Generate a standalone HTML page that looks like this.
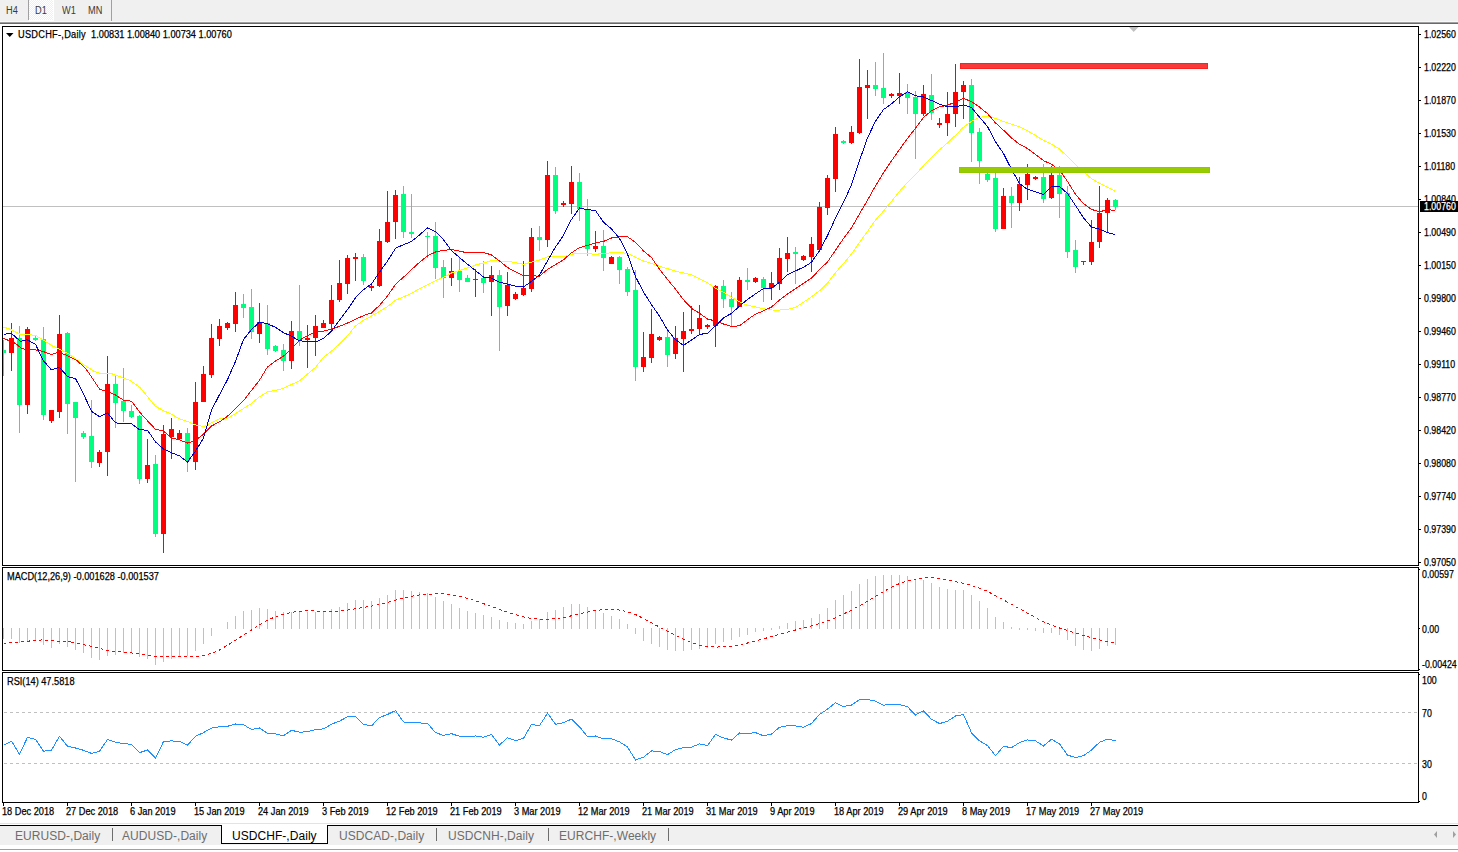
<!DOCTYPE html>
<html><head><meta charset="utf-8"><style>
*{margin:0;padding:0;box-sizing:border-box}
html,body{width:1458px;height:852px;overflow:hidden;background:#fff}
body{position:relative;font-family:"Liberation Sans",sans-serif;color:#000}
.tb{position:absolute;left:0;top:0;width:1458px;height:21px;background:#F0F0F0}
.tbb{position:absolute;top:7px;font-size:10px;line-height:8px;color:#3a3a3a;transform:scaleX(.92);transform-origin:0 0}
.al{position:absolute;left:1422px;font-size:10px;line-height:12px;white-space:nowrap;transform:scaleX(.88);transform-origin:0 0;-webkit-text-stroke:.25px currentColor}
.dl{position:absolute;top:806px;font-size:10px;line-height:12px;white-space:nowrap;transform:scaleX(.92);transform-origin:0 0;-webkit-text-stroke:.25px currentColor}
.ttl{position:absolute;font-size:10px;line-height:12px;white-space:nowrap;transform:scaleX(.92);transform-origin:0 0;-webkit-text-stroke:.25px currentColor}
.tab{position:absolute;top:828px;font-size:12px;line-height:16px;color:#6d6d6d;white-space:nowrap;letter-spacing:0.05px}
svg{position:absolute;left:0;top:0}
</style></head><body>
<div class="tb"></div>
<svg width="1458" height="852" viewBox="0 0 1458 852" shape-rendering="crispEdges">
<defs><clipPath id="mc"><rect x="3" y="27" width="1415" height="538"/></clipPath><clipPath id="mm"><rect x="3" y="568" width="1415" height="102"/></clipPath><clipPath id="mr"><rect x="3" y="673" width="1415" height="129"/></clipPath><pattern id="chk" width="2" height="2" patternUnits="userSpaceOnUse"><rect width="2" height="2" fill="#F0F0F0"/><rect width="1" height="1" fill="#fff"/><rect x="1" y="1" width="1" height="1" fill="#fff"/></pattern></defs>
<rect x="29" y="0" width="24" height="20" fill="url(#chk)"/>
<rect x="53" y="0" width="1" height="21" fill="#fff"/>
<rect x="29" y="20" width="25" height="1" fill="#fff"/>
<rect x="28" y="0" width="1" height="20" fill="#A0A0A0"/>
<rect x="111" y="0" width="1" height="22" fill="#A0A0A0"/>
<rect x="0" y="21" width="1458" height="1" fill="#F8F8F8"/>
<rect x="0" y="22" width="1458" height="1" fill="#A0A0A0"/>
<rect x="0" y="23" width="1458" height="1" fill="#696969"/>
<!-- price line -->
<rect x="3" y="206" width="1415" height="1" fill="#C0C0C0"/>
<g clip-path="url(#mc)"><g><rect x="3" y="340" width="1" height="10" fill="#00FF7F"/><rect x="3" y="353" width="1" height="23" fill="#00FF7F"/><rect x="1" y="350" width="5" height="3" fill="#00FF7F"/><rect x="11" y="323" width="1" height="15" fill="#FF0000"/><rect x="11" y="353" width="1" height="18" fill="#FF0000"/><rect x="9" y="338" width="5" height="15" fill="#FF0000"/><rect x="19" y="326" width="1" height="12" fill="#00FF7F"/><rect x="19" y="405" width="1" height="28" fill="#00FF7F"/><rect x="17" y="338" width="5" height="67" fill="#00FF7F"/><rect x="27" y="327" width="1" height="2" fill="#FF0000"/><rect x="27" y="405" width="1" height="9" fill="#FF0000"/><rect x="25" y="329" width="5" height="76" fill="#FF0000"/><rect x="35" y="336" width="1" height="2" fill="#00FF7F"/><rect x="35" y="340" width="1" height="1" fill="#00FF7F"/><rect x="33" y="338" width="5" height="2" fill="#00FF7F"/><rect x="43" y="327" width="1" height="12" fill="#00FF7F"/><rect x="43" y="415" width="1" height="5" fill="#00FF7F"/><rect x="41" y="339" width="5" height="76" fill="#00FF7F"/><rect x="51" y="421" width="1" height="2" fill="#FF0000"/><rect x="49" y="410" width="5" height="11" fill="#FF0000"/><rect x="59" y="315" width="1" height="19" fill="#FF0000"/><rect x="59" y="412" width="1" height="6" fill="#FF0000"/><rect x="57" y="334" width="5" height="78" fill="#FF0000"/><rect x="67" y="332" width="1" height="1" fill="#00FF7F"/><rect x="67" y="404" width="1" height="30" fill="#00FF7F"/><rect x="65" y="333" width="5" height="71" fill="#00FF7F"/><rect x="75" y="418" width="1" height="64" fill="#00FF7F"/><rect x="73" y="402" width="5" height="16" fill="#00FF7F"/><rect x="83" y="431" width="1" height="2" fill="#00FF7F"/><rect x="83" y="437" width="1" height="2" fill="#00FF7F"/><rect x="81" y="433" width="5" height="4" fill="#00FF7F"/><rect x="91" y="400" width="1" height="36" fill="#00FF7F"/><rect x="91" y="462" width="1" height="6" fill="#00FF7F"/><rect x="89" y="436" width="5" height="26" fill="#00FF7F"/><rect x="99" y="450" width="1" height="2" fill="#FF0000"/><rect x="99" y="463" width="1" height="4" fill="#FF0000"/><rect x="97" y="452" width="5" height="11" fill="#FF0000"/><rect x="107" y="356" width="1" height="28" fill="#FF0000"/><rect x="107" y="452" width="1" height="24" fill="#FF0000"/><rect x="105" y="384" width="5" height="68" fill="#FF0000"/><rect x="115" y="376" width="1" height="8" fill="#00FF7F"/><rect x="115" y="403" width="1" height="25" fill="#00FF7F"/><rect x="113" y="384" width="5" height="19" fill="#00FF7F"/><rect x="123" y="368" width="1" height="33" fill="#00FF7F"/><rect x="123" y="411" width="1" height="11" fill="#00FF7F"/><rect x="121" y="401" width="5" height="10" fill="#00FF7F"/><rect x="131" y="405" width="1" height="6" fill="#00FF7F"/><rect x="131" y="417" width="1" height="1" fill="#00FF7F"/><rect x="129" y="411" width="5" height="6" fill="#00FF7F"/><rect x="139" y="415" width="1" height="1" fill="#00FF7F"/><rect x="139" y="479" width="1" height="5" fill="#00FF7F"/><rect x="137" y="416" width="5" height="63" fill="#00FF7F"/><rect x="147" y="439" width="1" height="26" fill="#FF0000"/><rect x="147" y="479" width="1" height="4" fill="#FF0000"/><rect x="145" y="465" width="5" height="14" fill="#FF0000"/><rect x="155" y="455" width="1" height="9" fill="#00FF7F"/><rect x="155" y="534" width="1" height="3" fill="#00FF7F"/><rect x="153" y="464" width="5" height="70" fill="#00FF7F"/><rect x="163" y="425" width="1" height="9" fill="#FF0000"/><rect x="163" y="534" width="1" height="19" fill="#FF0000"/><rect x="161" y="434" width="5" height="100" fill="#FF0000"/><rect x="171" y="418" width="1" height="11" fill="#FF0000"/><rect x="171" y="437" width="1" height="22" fill="#FF0000"/><rect x="169" y="429" width="5" height="8" fill="#FF0000"/><rect x="179" y="430" width="1" height="3" fill="#FF0000"/><rect x="179" y="439" width="1" height="1" fill="#FF0000"/><rect x="177" y="433" width="5" height="6" fill="#FF0000"/><rect x="187" y="428" width="1" height="5" fill="#00FF7F"/><rect x="187" y="461" width="1" height="11" fill="#00FF7F"/><rect x="185" y="433" width="5" height="28" fill="#00FF7F"/><rect x="195" y="382" width="1" height="20" fill="#FF0000"/><rect x="195" y="462" width="1" height="8" fill="#FF0000"/><rect x="193" y="402" width="5" height="60" fill="#FF0000"/><rect x="203" y="366" width="1" height="8" fill="#FF0000"/><rect x="201" y="374" width="5" height="28" fill="#FF0000"/><rect x="211" y="324" width="1" height="14" fill="#FF0000"/><rect x="211" y="375" width="1" height="3" fill="#FF0000"/><rect x="209" y="338" width="5" height="37" fill="#FF0000"/><rect x="219" y="319" width="1" height="7" fill="#FF0000"/><rect x="219" y="339" width="1" height="7" fill="#FF0000"/><rect x="217" y="326" width="5" height="13" fill="#FF0000"/><rect x="227" y="322" width="1" height="1" fill="#FF0000"/><rect x="227" y="328" width="1" height="2" fill="#FF0000"/><rect x="225" y="323" width="5" height="5" fill="#FF0000"/><rect x="235" y="292" width="1" height="13" fill="#FF0000"/><rect x="235" y="324" width="1" height="8" fill="#FF0000"/><rect x="233" y="305" width="5" height="19" fill="#FF0000"/><rect x="243" y="294" width="1" height="10" fill="#00FF7F"/><rect x="243" y="308" width="1" height="10" fill="#00FF7F"/><rect x="241" y="304" width="5" height="4" fill="#00FF7F"/><rect x="251" y="289" width="1" height="18" fill="#00FF7F"/><rect x="251" y="332" width="1" height="7" fill="#00FF7F"/><rect x="249" y="307" width="5" height="25" fill="#00FF7F"/><rect x="259" y="303" width="1" height="19" fill="#FF0000"/><rect x="259" y="334" width="1" height="9" fill="#FF0000"/><rect x="257" y="322" width="5" height="12" fill="#FF0000"/><rect x="267" y="305" width="1" height="18" fill="#00FF7F"/><rect x="267" y="349" width="1" height="6" fill="#00FF7F"/><rect x="265" y="323" width="5" height="26" fill="#00FF7F"/><rect x="275" y="345" width="1" height="1" fill="#00FF7F"/><rect x="275" y="351" width="1" height="1" fill="#00FF7F"/><rect x="273" y="346" width="5" height="5" fill="#00FF7F"/><rect x="283" y="344" width="1" height="6" fill="#00FF7F"/><rect x="283" y="361" width="1" height="10" fill="#00FF7F"/><rect x="281" y="350" width="5" height="11" fill="#00FF7F"/><rect x="291" y="321" width="1" height="10" fill="#FF0000"/><rect x="291" y="361" width="1" height="8" fill="#FF0000"/><rect x="289" y="331" width="5" height="30" fill="#FF0000"/><rect x="299" y="285" width="1" height="46" fill="#00FF7F"/><rect x="299" y="340" width="1" height="6" fill="#00FF7F"/><rect x="297" y="331" width="5" height="9" fill="#00FF7F"/><rect x="307" y="325" width="1" height="13" fill="#FF0000"/><rect x="307" y="340" width="1" height="28" fill="#FF0000"/><rect x="305" y="338" width="5" height="2" fill="#FF0000"/><rect x="315" y="315" width="1" height="11" fill="#FF0000"/><rect x="315" y="338" width="1" height="18" fill="#FF0000"/><rect x="313" y="326" width="5" height="12" fill="#FF0000"/><rect x="323" y="320" width="1" height="3" fill="#FF0000"/><rect x="321" y="323" width="5" height="5" fill="#FF0000"/><rect x="331" y="285" width="1" height="15" fill="#FF0000"/><rect x="331" y="324" width="1" height="5" fill="#FF0000"/><rect x="329" y="300" width="5" height="24" fill="#FF0000"/><rect x="339" y="260" width="1" height="23" fill="#FF0000"/><rect x="339" y="300" width="1" height="2" fill="#FF0000"/><rect x="337" y="283" width="5" height="17" fill="#FF0000"/><rect x="347" y="255" width="1" height="3" fill="#FF0000"/><rect x="347" y="284" width="1" height="10" fill="#FF0000"/><rect x="345" y="258" width="5" height="26" fill="#FF0000"/><rect x="355" y="253" width="1" height="4" fill="#FF0000"/><rect x="355" y="259" width="1" height="22" fill="#FF0000"/><rect x="353" y="257" width="5" height="2" fill="#FF0000"/><rect x="363" y="254" width="1" height="3" fill="#00FF7F"/><rect x="363" y="281" width="1" height="4" fill="#00FF7F"/><rect x="361" y="257" width="5" height="24" fill="#00FF7F"/><rect x="371" y="284" width="1" height="2" fill="#FF0000"/><rect x="371" y="288" width="1" height="3" fill="#FF0000"/><rect x="369" y="286" width="5" height="2" fill="#FF0000"/><rect x="379" y="229" width="1" height="12" fill="#FF0000"/><rect x="379" y="286" width="1" height="1" fill="#FF0000"/><rect x="377" y="241" width="5" height="45" fill="#FF0000"/><rect x="387" y="191" width="1" height="31" fill="#FF0000"/><rect x="387" y="242" width="1" height="1" fill="#FF0000"/><rect x="385" y="222" width="5" height="20" fill="#FF0000"/><rect x="395" y="190" width="1" height="5" fill="#FF0000"/><rect x="395" y="222" width="1" height="17" fill="#FF0000"/><rect x="393" y="195" width="5" height="27" fill="#FF0000"/><rect x="403" y="186" width="1" height="8" fill="#00FF7F"/><rect x="403" y="232" width="1" height="6" fill="#00FF7F"/><rect x="401" y="194" width="5" height="38" fill="#00FF7F"/><rect x="411" y="194" width="1" height="38" fill="#00FF7F"/><rect x="411" y="234" width="1" height="4" fill="#00FF7F"/><rect x="409" y="232" width="5" height="2" fill="#00FF7F"/><rect x="427" y="232" width="1" height="4" fill="#00FF7F"/><rect x="427" y="237" width="1" height="21" fill="#00FF7F"/><rect x="425" y="236" width="5" height="1" fill="#00FF7F"/><rect x="435" y="222" width="1" height="14" fill="#00FF7F"/><rect x="435" y="268" width="1" height="11" fill="#00FF7F"/><rect x="433" y="236" width="5" height="32" fill="#00FF7F"/><rect x="443" y="260" width="1" height="7" fill="#00FF7F"/><rect x="443" y="278" width="1" height="20" fill="#00FF7F"/><rect x="441" y="267" width="5" height="11" fill="#00FF7F"/><rect x="451" y="258" width="1" height="13" fill="#FF0000"/><rect x="451" y="278" width="1" height="8" fill="#FF0000"/><rect x="449" y="271" width="5" height="7" fill="#FF0000"/><rect x="459" y="258" width="1" height="13" fill="#00FF7F"/><rect x="459" y="280" width="1" height="12" fill="#00FF7F"/><rect x="457" y="271" width="5" height="9" fill="#00FF7F"/><rect x="467" y="275" width="1" height="3" fill="#00FF7F"/><rect x="465" y="278" width="5" height="4" fill="#00FF7F"/><rect x="475" y="269" width="1" height="10" fill="#FF0000"/><rect x="475" y="280" width="1" height="17" fill="#FF0000"/><rect x="473" y="279" width="5" height="1" fill="#FF0000"/><rect x="483" y="261" width="1" height="17" fill="#00FF7F"/><rect x="483" y="283" width="1" height="10" fill="#00FF7F"/><rect x="481" y="278" width="5" height="5" fill="#00FF7F"/><rect x="491" y="266" width="1" height="9" fill="#FF0000"/><rect x="491" y="282" width="1" height="34" fill="#FF0000"/><rect x="489" y="275" width="5" height="7" fill="#FF0000"/><rect x="499" y="270" width="1" height="5" fill="#00FF7F"/><rect x="499" y="307" width="1" height="44" fill="#00FF7F"/><rect x="497" y="275" width="5" height="32" fill="#00FF7F"/><rect x="507" y="272" width="1" height="13" fill="#FF0000"/><rect x="507" y="306" width="1" height="10" fill="#FF0000"/><rect x="505" y="285" width="5" height="21" fill="#FF0000"/><rect x="515" y="292" width="1" height="2" fill="#FF0000"/><rect x="515" y="299" width="1" height="1" fill="#FF0000"/><rect x="513" y="294" width="5" height="5" fill="#FF0000"/><rect x="523" y="261" width="1" height="27" fill="#FF0000"/><rect x="523" y="295" width="1" height="1" fill="#FF0000"/><rect x="521" y="288" width="5" height="7" fill="#FF0000"/><rect x="531" y="228" width="1" height="9" fill="#FF0000"/><rect x="531" y="289" width="1" height="3" fill="#FF0000"/><rect x="529" y="237" width="5" height="52" fill="#FF0000"/><rect x="539" y="226" width="1" height="11" fill="#00FF7F"/><rect x="539" y="240" width="1" height="11" fill="#00FF7F"/><rect x="537" y="237" width="5" height="3" fill="#00FF7F"/><rect x="547" y="161" width="1" height="14" fill="#FF0000"/><rect x="547" y="240" width="1" height="7" fill="#FF0000"/><rect x="545" y="175" width="5" height="65" fill="#FF0000"/><rect x="555" y="167" width="1" height="8" fill="#00FF7F"/><rect x="555" y="211" width="1" height="3" fill="#00FF7F"/><rect x="553" y="175" width="5" height="36" fill="#00FF7F"/><rect x="563" y="201" width="1" height="2" fill="#FF0000"/><rect x="563" y="205" width="1" height="2" fill="#FF0000"/><rect x="561" y="203" width="5" height="2" fill="#FF0000"/><rect x="571" y="166" width="1" height="16" fill="#FF0000"/><rect x="571" y="204" width="1" height="10" fill="#FF0000"/><rect x="569" y="182" width="5" height="22" fill="#FF0000"/><rect x="579" y="173" width="1" height="9" fill="#00FF7F"/><rect x="579" y="209" width="1" height="12" fill="#00FF7F"/><rect x="577" y="182" width="5" height="27" fill="#00FF7F"/><rect x="587" y="199" width="1" height="10" fill="#00FF7F"/><rect x="587" y="249" width="1" height="7" fill="#00FF7F"/><rect x="585" y="209" width="5" height="40" fill="#00FF7F"/><rect x="595" y="231" width="1" height="15" fill="#FF0000"/><rect x="595" y="249" width="1" height="3" fill="#FF0000"/><rect x="593" y="246" width="5" height="3" fill="#FF0000"/><rect x="603" y="230" width="1" height="16" fill="#00FF7F"/><rect x="603" y="258" width="1" height="13" fill="#00FF7F"/><rect x="601" y="246" width="5" height="12" fill="#00FF7F"/><rect x="611" y="256" width="1" height="1" fill="#FF0000"/><rect x="609" y="257" width="5" height="7" fill="#FF0000"/><rect x="619" y="256" width="1" height="1" fill="#00FF7F"/><rect x="619" y="270" width="1" height="14" fill="#00FF7F"/><rect x="617" y="257" width="5" height="13" fill="#00FF7F"/><rect x="627" y="267" width="1" height="2" fill="#00FF7F"/><rect x="627" y="292" width="1" height="4" fill="#00FF7F"/><rect x="625" y="269" width="5" height="23" fill="#00FF7F"/><rect x="635" y="270" width="1" height="20" fill="#00FF7F"/><rect x="635" y="367" width="1" height="14" fill="#00FF7F"/><rect x="633" y="290" width="5" height="77" fill="#00FF7F"/><rect x="643" y="332" width="1" height="25" fill="#FF0000"/><rect x="643" y="367" width="1" height="5" fill="#FF0000"/><rect x="641" y="357" width="5" height="10" fill="#FF0000"/><rect x="651" y="309" width="1" height="25" fill="#FF0000"/><rect x="651" y="358" width="1" height="5" fill="#FF0000"/><rect x="649" y="334" width="5" height="24" fill="#FF0000"/><rect x="659" y="336" width="1" height="1" fill="#FF0000"/><rect x="659" y="340" width="1" height="1" fill="#FF0000"/><rect x="657" y="337" width="5" height="3" fill="#FF0000"/><rect x="667" y="331" width="1" height="6" fill="#00FF7F"/><rect x="667" y="355" width="1" height="12" fill="#00FF7F"/><rect x="665" y="337" width="5" height="18" fill="#00FF7F"/><rect x="675" y="326" width="1" height="12" fill="#FF0000"/><rect x="675" y="354" width="1" height="5" fill="#FF0000"/><rect x="673" y="338" width="5" height="16" fill="#FF0000"/><rect x="683" y="312" width="1" height="19" fill="#FF0000"/><rect x="683" y="339" width="1" height="33" fill="#FF0000"/><rect x="681" y="331" width="5" height="8" fill="#FF0000"/><rect x="691" y="306" width="1" height="23" fill="#FF0000"/><rect x="691" y="331" width="1" height="3" fill="#FF0000"/><rect x="689" y="329" width="5" height="2" fill="#FF0000"/><rect x="699" y="305" width="1" height="13" fill="#FF0000"/><rect x="699" y="329" width="1" height="5" fill="#FF0000"/><rect x="697" y="318" width="5" height="11" fill="#FF0000"/><rect x="707" y="324" width="1" height="1" fill="#FF0000"/><rect x="707" y="327" width="1" height="2" fill="#FF0000"/><rect x="705" y="325" width="5" height="2" fill="#FF0000"/><rect x="715" y="285" width="1" height="1" fill="#FF0000"/><rect x="715" y="326" width="1" height="21" fill="#FF0000"/><rect x="713" y="286" width="5" height="40" fill="#FF0000"/><rect x="723" y="280" width="1" height="6" fill="#00FF7F"/><rect x="723" y="299" width="1" height="9" fill="#00FF7F"/><rect x="721" y="286" width="5" height="13" fill="#00FF7F"/><rect x="731" y="292" width="1" height="7" fill="#00FF7F"/><rect x="731" y="307" width="1" height="19" fill="#00FF7F"/><rect x="729" y="299" width="5" height="8" fill="#00FF7F"/><rect x="739" y="277" width="1" height="3" fill="#FF0000"/><rect x="737" y="280" width="5" height="27" fill="#FF0000"/><rect x="747" y="268" width="1" height="12" fill="#00FF7F"/><rect x="747" y="282" width="1" height="8" fill="#00FF7F"/><rect x="745" y="280" width="5" height="2" fill="#00FF7F"/><rect x="755" y="277" width="1" height="1" fill="#FF0000"/><rect x="755" y="282" width="1" height="1" fill="#FF0000"/><rect x="753" y="278" width="5" height="4" fill="#FF0000"/><rect x="763" y="277" width="1" height="2" fill="#00FF7F"/><rect x="763" y="288" width="1" height="14" fill="#00FF7F"/><rect x="761" y="279" width="5" height="9" fill="#00FF7F"/><rect x="771" y="272" width="1" height="11" fill="#FF0000"/><rect x="771" y="288" width="1" height="12" fill="#FF0000"/><rect x="769" y="283" width="5" height="5" fill="#FF0000"/><rect x="779" y="248" width="1" height="10" fill="#FF0000"/><rect x="779" y="284" width="1" height="6" fill="#FF0000"/><rect x="777" y="258" width="5" height="26" fill="#FF0000"/><rect x="787" y="237" width="1" height="16" fill="#FF0000"/><rect x="787" y="259" width="1" height="13" fill="#FF0000"/><rect x="785" y="253" width="5" height="6" fill="#FF0000"/><rect x="795" y="247" width="1" height="5" fill="#00FF7F"/><rect x="795" y="254" width="1" height="30" fill="#00FF7F"/><rect x="793" y="252" width="5" height="2" fill="#00FF7F"/><rect x="803" y="255" width="1" height="1" fill="#FF0000"/><rect x="803" y="260" width="1" height="1" fill="#FF0000"/><rect x="801" y="256" width="5" height="4" fill="#FF0000"/><rect x="811" y="237" width="1" height="7" fill="#FF0000"/><rect x="811" y="257" width="1" height="15" fill="#FF0000"/><rect x="809" y="244" width="5" height="13" fill="#FF0000"/><rect x="819" y="202" width="1" height="5" fill="#FF0000"/><rect x="817" y="207" width="5" height="43" fill="#FF0000"/><rect x="827" y="175" width="1" height="3" fill="#FF0000"/><rect x="827" y="208" width="1" height="7" fill="#FF0000"/><rect x="825" y="178" width="5" height="30" fill="#FF0000"/><rect x="835" y="127" width="1" height="7" fill="#FF0000"/><rect x="835" y="179" width="1" height="13" fill="#FF0000"/><rect x="833" y="134" width="5" height="45" fill="#FF0000"/><rect x="843" y="140" width="1" height="1" fill="#00FF7F"/><rect x="843" y="143" width="1" height="1" fill="#00FF7F"/><rect x="841" y="141" width="5" height="2" fill="#00FF7F"/><rect x="851" y="126" width="1" height="6" fill="#FF0000"/><rect x="851" y="143" width="1" height="1" fill="#FF0000"/><rect x="849" y="132" width="5" height="11" fill="#FF0000"/><rect x="859" y="59" width="1" height="28" fill="#FF0000"/><rect x="859" y="133" width="1" height="1" fill="#FF0000"/><rect x="857" y="87" width="5" height="46" fill="#FF0000"/><rect x="867" y="70" width="1" height="15" fill="#FF0000"/><rect x="867" y="88" width="1" height="31" fill="#FF0000"/><rect x="865" y="85" width="5" height="3" fill="#FF0000"/><rect x="875" y="62" width="1" height="23" fill="#00FF7F"/><rect x="875" y="89" width="1" height="7" fill="#00FF7F"/><rect x="873" y="85" width="5" height="4" fill="#00FF7F"/><rect x="883" y="53" width="1" height="35" fill="#00FF7F"/><rect x="883" y="98" width="1" height="6" fill="#00FF7F"/><rect x="881" y="88" width="5" height="10" fill="#00FF7F"/><rect x="891" y="93" width="1" height="1" fill="#FF0000"/><rect x="891" y="96" width="1" height="2" fill="#FF0000"/><rect x="889" y="94" width="5" height="2" fill="#FF0000"/><rect x="899" y="73" width="1" height="20" fill="#FF0000"/><rect x="899" y="96" width="1" height="8" fill="#FF0000"/><rect x="897" y="93" width="5" height="3" fill="#FF0000"/><rect x="907" y="84" width="1" height="8" fill="#00FF7F"/><rect x="907" y="98" width="1" height="16" fill="#00FF7F"/><rect x="905" y="92" width="5" height="6" fill="#00FF7F"/><rect x="915" y="91" width="1" height="6" fill="#00FF7F"/><rect x="915" y="114" width="1" height="45" fill="#00FF7F"/><rect x="913" y="97" width="5" height="17" fill="#00FF7F"/><rect x="923" y="85" width="1" height="9" fill="#FF0000"/><rect x="923" y="114" width="1" height="2" fill="#FF0000"/><rect x="921" y="94" width="5" height="20" fill="#FF0000"/><rect x="931" y="74" width="1" height="21" fill="#00FF7F"/><rect x="931" y="113" width="1" height="7" fill="#00FF7F"/><rect x="929" y="95" width="5" height="18" fill="#00FF7F"/><rect x="939" y="118" width="1" height="5" fill="#FF0000"/><rect x="939" y="125" width="1" height="3" fill="#FF0000"/><rect x="937" y="123" width="5" height="2" fill="#FF0000"/><rect x="947" y="92" width="1" height="22" fill="#FF0000"/><rect x="947" y="123" width="1" height="13" fill="#FF0000"/><rect x="945" y="114" width="5" height="9" fill="#FF0000"/><rect x="955" y="64" width="1" height="28" fill="#FF0000"/><rect x="955" y="114" width="1" height="13" fill="#FF0000"/><rect x="953" y="92" width="5" height="22" fill="#FF0000"/><rect x="963" y="81" width="1" height="4" fill="#FF0000"/><rect x="963" y="92" width="1" height="27" fill="#FF0000"/><rect x="961" y="85" width="5" height="7" fill="#FF0000"/><rect x="971" y="79" width="1" height="6" fill="#00FF7F"/><rect x="971" y="133" width="1" height="29" fill="#00FF7F"/><rect x="969" y="85" width="5" height="48" fill="#00FF7F"/><rect x="979" y="128" width="1" height="4" fill="#00FF7F"/><rect x="979" y="161" width="1" height="23" fill="#00FF7F"/><rect x="977" y="132" width="5" height="29" fill="#00FF7F"/><rect x="987" y="172" width="1" height="2" fill="#00FF7F"/><rect x="987" y="180" width="1" height="2" fill="#00FF7F"/><rect x="985" y="174" width="5" height="6" fill="#00FF7F"/><rect x="995" y="173" width="1" height="5" fill="#00FF7F"/><rect x="995" y="229" width="1" height="3" fill="#00FF7F"/><rect x="993" y="178" width="5" height="51" fill="#00FF7F"/><rect x="1003" y="188" width="1" height="8" fill="#FF0000"/><rect x="1001" y="196" width="5" height="33" fill="#FF0000"/><rect x="1011" y="187" width="1" height="9" fill="#00FF7F"/><rect x="1011" y="203" width="1" height="25" fill="#00FF7F"/><rect x="1009" y="196" width="5" height="7" fill="#00FF7F"/><rect x="1019" y="177" width="1" height="7" fill="#FF0000"/><rect x="1019" y="203" width="1" height="8" fill="#FF0000"/><rect x="1017" y="184" width="5" height="19" fill="#FF0000"/><rect x="1027" y="164" width="1" height="10" fill="#FF0000"/><rect x="1027" y="185" width="1" height="15" fill="#FF0000"/><rect x="1025" y="174" width="5" height="11" fill="#FF0000"/><rect x="1035" y="176" width="1" height="1" fill="#FF0000"/><rect x="1035" y="179" width="1" height="1" fill="#FF0000"/><rect x="1033" y="177" width="5" height="2" fill="#FF0000"/><rect x="1043" y="164" width="1" height="13" fill="#00FF7F"/><rect x="1043" y="199" width="1" height="4" fill="#00FF7F"/><rect x="1041" y="177" width="5" height="22" fill="#00FF7F"/><rect x="1051" y="166" width="1" height="9" fill="#FF0000"/><rect x="1051" y="198" width="1" height="1" fill="#FF0000"/><rect x="1049" y="175" width="5" height="23" fill="#FF0000"/><rect x="1059" y="166" width="1" height="9" fill="#00FF7F"/><rect x="1059" y="194" width="1" height="24" fill="#00FF7F"/><rect x="1057" y="175" width="5" height="19" fill="#00FF7F"/><rect x="1067" y="186" width="1" height="7" fill="#00FF7F"/><rect x="1067" y="252" width="1" height="6" fill="#00FF7F"/><rect x="1065" y="193" width="5" height="59" fill="#00FF7F"/><rect x="1075" y="240" width="1" height="10" fill="#00FF7F"/><rect x="1075" y="267" width="1" height="6" fill="#00FF7F"/><rect x="1073" y="250" width="5" height="17" fill="#00FF7F"/><rect x="1083" y="262" width="1" height="3" fill="#FF0000"/><rect x="1081" y="261" width="5" height="1" fill="#FF0000"/><rect x="1091" y="220" width="1" height="22" fill="#FF0000"/><rect x="1091" y="262" width="1" height="3" fill="#FF0000"/><rect x="1089" y="242" width="5" height="20" fill="#FF0000"/><rect x="1099" y="186" width="1" height="27" fill="#FF0000"/><rect x="1099" y="242" width="1" height="6" fill="#FF0000"/><rect x="1097" y="213" width="5" height="29" fill="#FF0000"/><rect x="1107" y="198" width="1" height="2" fill="#FF0000"/><rect x="1107" y="213" width="1" height="19" fill="#FF0000"/><rect x="1105" y="200" width="5" height="13" fill="#FF0000"/><rect x="1115" y="199" width="1" height="1" fill="#00FF7F"/><rect x="1115" y="207" width="1" height="3" fill="#00FF7F"/><rect x="1113" y="200" width="5" height="7" fill="#00FF7F"/></g>
<path d="M3.5,327.0 L9.5,329.0 L20.3,334.4 L35.5,335.2 L52.4,345.9 L69.2,354.2 L82.9,364.2 L93.5,371.0 L99.7,373.3 L111.9,373.8 L130.2,380.5 L139.9,387.4 L155.5,406.4 L163.5,410.6 L171.5,414.3 L179.5,418.8 L187.5,421.5 L195.5,424.9 L203.5,426.6 L211.5,422.9 L219.5,418.9 L227.5,418.4 L235.5,413.7 L243.5,408.5 L251.5,403.5 L259.5,396.8 L267.5,391.9 L275.5,390.3 L283.5,388.3 L291.5,384.5 L299.5,380.8 L307.5,374.1 L315.5,367.5 L323.5,357.4 L331.5,351.1 L339.5,344.1 L347.5,335.8 L355.5,326.0 L363.5,320.3 L371.5,316.1 L379.5,311.4 L387.5,306.5 L395.5,300.3 L403.5,296.9 L411.5,293.3 L419.5,288.7 L427.5,284.6 L435.5,280.8 L443.5,277.3 L451.5,273.0 L459.5,270.6 L467.5,267.8 L475.5,265.0 L483.5,263.0 L491.5,260.7 L499.5,261.0 L507.5,261.1 L515.5,262.8 L523.5,264.3 L531.5,262.2 L539.5,260.0 L547.5,256.9 L555.5,256.4 L563.5,256.8 L571.5,254.4 L579.5,253.2 L587.5,253.8 L595.5,254.2 L603.5,253.7 L611.5,252.7 L619.5,252.7 L627.5,253.2 L635.5,257.3 L643.5,261.0 L651.5,263.4 L659.5,266.4 L667.5,268.7 L675.5,271.2 L683.5,272.9 L691.5,274.9 L699.5,278.8 L707.5,282.8 L715.5,288.1 L723.5,292.3 L731.5,297.2 L739.5,301.9 L747.5,305.4 L755.5,306.8 L763.5,308.8 L771.5,310.0 L779.5,310.1 L787.5,309.3 L795.5,307.5 L803.5,302.2 L811.5,296.9 L819.5,290.8 L827.5,283.2 L835.5,272.7 L843.5,263.5 L851.5,254.0 L859.5,242.5 L867.5,231.4 L875.5,220.1 L883.5,211.1 L891.5,201.4 L899.5,191.3 L907.5,182.6 L915.5,174.6 L923.5,165.8 L931.5,157.4 L939.5,149.8 L947.5,142.9 L955.5,135.3 L963.5,127.2 L971.5,121.3 L979.5,117.4 L987.5,116.1 L995.5,118.5 L1003.5,121.4 L1011.5,124.3 L1019.5,126.8 L1027.5,130.9 L1035.5,135.3 L1043.5,140.5 L1051.5,144.2 L1059.5,149.0 L1067.5,156.5 L1075.5,164.6 L1083.5,171.6 L1091.5,178.6 L1099.5,183.4 L1107.5,187.1 L1115.5,191.5" fill="none" stroke="#FFFF00" stroke-width="1"/>
<path d="M3.5,338.2 L15.8,343.6 L21.9,348.9 L32.5,349.4 L43.2,351.5 L51.5,354.6 L58.5,352.0 L67.5,355.8 L76.8,360.4 L85.9,368.7 L99.7,389.3 L107.5,391.4 L115.5,395.0 L123.5,400.2 L131.5,401.2 L139.5,411.9 L147.5,420.8 L155.5,429.3 L163.5,431.0 L171.5,437.8 L179.5,439.9 L187.5,443.0 L195.5,440.5 L203.5,434.1 L211.5,426.0 L219.5,421.9 L227.5,416.2 L235.5,408.6 L243.5,400.8 L251.5,390.4 L259.5,380.2 L267.5,366.9 L275.5,361.0 L283.5,356.1 L291.5,348.9 L299.5,340.2 L307.5,335.6 L315.5,332.1 L323.5,331.1 L331.5,329.2 L339.5,326.3 L347.5,323.0 L355.5,319.3 L363.5,315.6 L371.5,313.0 L379.5,305.3 L387.5,296.1 L395.5,284.2 L403.5,277.2 L411.5,269.6 L419.5,262.3 L427.5,255.9 L435.5,252.0 L443.5,250.4 L451.5,249.5 L459.5,251.1 L467.5,252.9 L475.5,252.7 L483.5,252.5 L491.5,254.9 L499.5,261.0 L507.5,267.5 L515.5,271.9 L523.5,275.7 L531.5,275.9 L539.5,276.1 L547.5,269.5 L555.5,264.7 L563.5,259.8 L571.5,252.8 L579.5,247.6 L587.5,245.4 L595.5,242.8 L603.5,241.5 L611.5,238.0 L619.5,236.9 L627.5,236.7 L635.5,242.4 L643.5,250.9 L651.5,257.6 L659.5,269.2 L667.5,279.5 L675.5,289.1 L683.5,299.7 L691.5,308.3 L699.5,313.3 L707.5,319.0 L715.5,321.0 L723.5,324.0 L731.5,326.6 L739.5,325.8 L747.5,319.7 L755.5,314.1 L763.5,310.9 L771.5,307.0 L779.5,300.1 L787.5,294.1 L795.5,288.6 L803.5,283.3 L811.5,278.1 L819.5,269.6 L827.5,261.9 L835.5,250.2 L843.5,238.5 L851.5,227.9 L859.5,214.0 L867.5,200.1 L875.5,185.9 L883.5,172.6 L891.5,160.9 L899.5,149.5 L907.5,138.4 L915.5,128.2 L923.5,117.5 L931.5,110.8 L939.5,106.9 L947.5,105.4 L955.5,101.8 L963.5,98.4 L971.5,101.6 L979.5,107.1 L987.5,113.6 L995.5,122.9 L1003.5,130.2 L1011.5,138.0 L1019.5,144.2 L1027.5,148.5 L1035.5,154.4 L1043.5,160.6 L1051.5,164.3 L1059.5,170.0 L1067.5,181.4 L1075.5,194.4 L1083.5,203.6 L1091.5,209.4 L1099.5,211.8 L1107.5,209.7 L1115.5,210.5" fill="none" stroke="#FF0000" stroke-width="1"/>
<path d="M3.5,334.4 L11.2,333.2 L20.3,341.3 L27.2,339.8 L35.5,344.3 L43.2,360.4 L51.5,369.9 L59.5,367.2 L67.5,376.6 L75.5,378.5 L83.5,393.9 L91.5,411.4 L99.5,416.7 L107.5,412.9 L115.5,422.8 L123.5,423.9 L131.5,423.8 L139.5,429.8 L147.5,430.2 L155.5,441.9 L163.5,449.0 L171.5,452.8 L179.5,455.8 L187.5,462.1 L195.5,451.1 L203.5,438.1 L211.5,410.1 L219.5,394.7 L227.5,379.6 L235.5,361.4 L243.5,339.5 L251.5,329.6 L259.5,322.2 L267.5,323.7 L275.5,327.3 L283.5,332.6 L291.5,336.3 L299.5,340.8 L307.5,341.5 L315.5,342.0 L323.5,338.4 L331.5,331.2 L339.5,320.1 L347.5,309.6 L355.5,297.7 L363.5,289.7 L371.5,283.9 L379.5,272.1 L387.5,261.0 L395.5,248.3 L403.5,244.7 L411.5,241.5 L419.5,234.9 L427.5,228.0 L435.5,231.8 L443.5,239.8 L451.5,250.7 L459.5,257.5 L467.5,264.3 L475.5,270.5 L483.5,277.1 L491.5,278.1 L499.5,282.2 L507.5,284.2 L515.5,286.2 L523.5,287.1 L531.5,281.2 L539.5,275.1 L547.5,260.8 L555.5,247.1 L563.5,235.4 L571.5,219.4 L579.5,208.0 L587.5,209.7 L595.5,210.5 L603.5,222.3 L611.5,228.9 L619.5,238.4 L627.5,254.1 L635.5,276.7 L643.5,292.1 L651.5,304.7 L659.5,316.1 L667.5,330.0 L675.5,339.7 L683.5,345.3 L691.5,340.0 L699.5,334.5 L707.5,333.2 L715.5,325.9 L723.5,317.9 L731.5,313.4 L739.5,306.2 L747.5,299.5 L755.5,293.8 L763.5,288.6 L771.5,288.1 L779.5,282.4 L787.5,274.7 L795.5,270.9 L803.5,267.2 L811.5,262.3 L819.5,250.7 L827.5,235.7 L835.5,218.0 L843.5,202.3 L851.5,184.9 L859.5,160.7 L867.5,138.0 L875.5,121.1 L883.5,109.6 L891.5,103.9 L899.5,96.8 L907.5,91.9 L915.5,95.7 L923.5,97.0 L931.5,100.5 L939.5,104.1 L947.5,106.9 L955.5,106.7 L963.5,104.9 L971.5,107.6 L979.5,117.1 L987.5,126.6 L995.5,141.7 L1003.5,153.5 L1011.5,169.3 L1019.5,183.5 L1027.5,189.4 L1035.5,191.7 L1043.5,194.5 L1051.5,186.8 L1059.5,186.5 L1067.5,193.5 L1075.5,205.4 L1083.5,217.8 L1091.5,227.1 L1099.5,229.1 L1107.5,232.7 L1115.5,234.5" fill="none" stroke="#0000CD" stroke-width="1"/></g>
<rect x="960" y="63" width="248" height="6" fill="#FF2020"/><rect x="961" y="64" width="246" height="4" fill="#F83A3A"/>
<rect x="959" y="167" width="251" height="6" fill="#90C800"/><rect x="960" y="168" width="249" height="4" fill="#99CC00"/>
<polygon points="1129,27 1138.5,27 1133.7,32" fill="#C0C0C0" shape-rendering="auto"/>
<!-- MACD -->
<g clip-path="url(#mm)"><g fill="#C0C0C0"><rect x="3" y="628" width="1" height="11"/><rect x="11" y="628" width="1" height="11"/><rect x="19" y="628" width="1" height="15"/><rect x="27" y="628" width="1" height="13"/><rect x="35" y="628" width="1" height="12"/><rect x="43" y="628" width="1" height="17"/><rect x="51" y="628" width="1" height="20"/><rect x="59" y="628" width="1" height="16"/><rect x="67" y="628" width="1" height="19"/><rect x="75" y="628" width="1" height="22"/><rect x="83" y="628" width="1" height="25"/><rect x="91" y="628" width="1" height="30"/><rect x="99" y="628" width="1" height="32"/><rect x="107" y="628" width="1" height="28"/><rect x="115" y="628" width="1" height="27"/><rect x="123" y="628" width="1" height="25"/><rect x="131" y="628" width="1" height="25"/><rect x="139" y="628" width="1" height="29"/><rect x="147" y="628" width="1" height="31"/><rect x="155" y="628" width="1" height="37"/><rect x="163" y="628" width="1" height="34"/><rect x="171" y="628" width="1" height="31"/><rect x="179" y="628" width="1" height="28"/><rect x="187" y="628" width="1" height="28"/><rect x="195" y="628" width="1" height="23"/><rect x="203" y="628" width="1" height="16"/><rect x="211" y="628" width="1" height="8"/><rect x="227" y="622" width="1" height="7"/><rect x="235" y="616" width="1" height="13"/><rect x="243" y="611" width="1" height="18"/><rect x="251" y="610" width="1" height="19"/><rect x="259" y="608" width="1" height="21"/><rect x="267" y="609" width="1" height="20"/><rect x="275" y="611" width="1" height="18"/><rect x="283" y="612" width="1" height="17"/><rect x="291" y="612" width="1" height="17"/><rect x="299" y="612" width="1" height="17"/><rect x="307" y="612" width="1" height="17"/><rect x="315" y="612" width="1" height="17"/><rect x="323" y="611" width="1" height="18"/><rect x="331" y="609" width="1" height="20"/><rect x="339" y="607" width="1" height="22"/><rect x="347" y="603" width="1" height="26"/><rect x="355" y="600" width="1" height="29"/><rect x="363" y="600" width="1" height="29"/><rect x="371" y="601" width="1" height="28"/><rect x="379" y="598" width="1" height="31"/><rect x="387" y="595" width="1" height="34"/><rect x="395" y="590" width="1" height="39"/><rect x="403" y="590" width="1" height="39"/><rect x="411" y="591" width="1" height="38"/><rect x="419" y="592" width="1" height="37"/><rect x="427" y="593" width="1" height="36"/><rect x="435" y="597" width="1" height="32"/><rect x="443" y="601" width="1" height="28"/><rect x="451" y="604" width="1" height="25"/><rect x="459" y="608" width="1" height="21"/><rect x="467" y="611" width="1" height="18"/><rect x="475" y="613" width="1" height="16"/><rect x="483" y="615" width="1" height="14"/><rect x="491" y="617" width="1" height="12"/><rect x="499" y="620" width="1" height="9"/><rect x="507" y="622" width="1" height="7"/><rect x="515" y="623" width="1" height="6"/><rect x="523" y="624" width="1" height="5"/><rect x="531" y="621" width="1" height="8"/><rect x="539" y="619" width="1" height="10"/><rect x="547" y="612" width="1" height="17"/><rect x="555" y="610" width="1" height="19"/><rect x="563" y="607" width="1" height="22"/><rect x="571" y="604" width="1" height="25"/><rect x="579" y="604" width="1" height="25"/><rect x="587" y="607" width="1" height="22"/><rect x="595" y="610" width="1" height="19"/><rect x="603" y="613" width="1" height="16"/><rect x="611" y="616" width="1" height="13"/><rect x="619" y="619" width="1" height="10"/><rect x="627" y="624" width="1" height="5"/><rect x="635" y="628" width="1" height="6"/><rect x="643" y="628" width="1" height="13"/><rect x="651" y="628" width="1" height="16"/><rect x="659" y="628" width="1" height="19"/><rect x="667" y="628" width="1" height="22"/><rect x="675" y="628" width="1" height="23"/><rect x="683" y="628" width="1" height="23"/><rect x="691" y="628" width="1" height="22"/><rect x="699" y="628" width="1" height="21"/><rect x="707" y="628" width="1" height="20"/><rect x="715" y="628" width="1" height="16"/><rect x="723" y="628" width="1" height="14"/><rect x="731" y="628" width="1" height="12"/><rect x="739" y="628" width="1" height="9"/><rect x="747" y="628" width="1" height="7"/><rect x="755" y="628" width="1" height="4"/><rect x="763" y="628" width="1" height="3"/><rect x="771" y="628" width="1" height="2"/><rect x="779" y="626" width="1" height="3"/><rect x="787" y="623" width="1" height="6"/><rect x="795" y="621" width="1" height="8"/><rect x="803" y="620" width="1" height="9"/><rect x="811" y="618" width="1" height="11"/><rect x="819" y="614" width="1" height="15"/><rect x="827" y="608" width="1" height="21"/><rect x="835" y="600" width="1" height="29"/><rect x="843" y="595" width="1" height="34"/><rect x="851" y="591" width="1" height="38"/><rect x="859" y="584" width="1" height="45"/><rect x="867" y="579" width="1" height="50"/><rect x="875" y="576" width="1" height="53"/><rect x="883" y="575" width="1" height="54"/><rect x="891" y="575" width="1" height="54"/><rect x="899" y="575" width="1" height="54"/><rect x="907" y="576" width="1" height="53"/><rect x="915" y="579" width="1" height="50"/><rect x="923" y="580" width="1" height="49"/><rect x="931" y="583" width="1" height="46"/><rect x="939" y="587" width="1" height="42"/><rect x="947" y="589" width="1" height="40"/><rect x="955" y="590" width="1" height="39"/><rect x="963" y="590" width="1" height="39"/><rect x="971" y="595" width="1" height="34"/><rect x="979" y="601" width="1" height="28"/><rect x="987" y="608" width="1" height="21"/><rect x="995" y="617" width="1" height="12"/><rect x="1003" y="622" width="1" height="7"/><rect x="1011" y="627" width="1" height="2"/><rect x="1019" y="628" width="1" height="2"/><rect x="1027" y="628" width="1" height="2"/><rect x="1035" y="628" width="1" height="3"/><rect x="1043" y="628" width="1" height="5"/><rect x="1051" y="628" width="1" height="5"/><rect x="1059" y="628" width="1" height="7"/><rect x="1067" y="628" width="1" height="12"/><rect x="1075" y="628" width="1" height="18"/><rect x="1083" y="628" width="1" height="22"/><rect x="1091" y="628" width="1" height="23"/><rect x="1099" y="628" width="1" height="21"/><rect x="1107" y="628" width="1" height="18"/><rect x="1115" y="628" width="1" height="17"/></g>
<path d="M3.5,643.2 L41.5,640.0 L72.5,642.1 L67.5,641.9 L75.5,643.1 L83.5,644.7 L91.5,646.4 L99.5,648.5 L107.5,650.4 L115.5,651.4 L123.5,652.0 L131.5,653.0 L139.5,654.1 L147.5,655.1 L155.5,656.4 L163.5,656.9 L171.5,656.7 L179.5,656.7 L187.5,656.9 L195.5,656.6 L203.5,655.7 L211.5,653.4 L219.5,650.1 L227.5,645.3 L235.5,640.3 L243.5,635.1 L251.5,630.1 L259.5,624.8 L267.5,620.3 L275.5,616.7 L283.5,614.1 L291.5,612.4 L299.5,611.3 L307.5,610.9 L315.5,611.0 L323.5,611.2 L331.5,611.3 L339.5,611.0 L347.5,610.1 L355.5,608.7 L363.5,607.4 L371.5,606.1 L379.5,604.5 L387.5,602.5 L395.5,600.2 L403.5,598.0 L411.5,596.3 L419.5,595.0 L427.5,594.3 L435.5,593.9 L443.5,594.0 L451.5,594.7 L459.5,596.1 L467.5,598.4 L475.5,600.9 L483.5,603.7 L491.5,606.4 L499.5,609.5 L507.5,612.2 L515.5,614.7 L523.5,616.9 L531.5,618.4 L539.5,619.3 L547.5,619.2 L555.5,618.6 L563.5,617.6 L571.5,615.8 L579.5,613.8 L587.5,612.1 L595.5,610.5 L603.5,609.6 L611.5,609.3 L619.5,610.1 L627.5,611.7 L635.5,614.5 L643.5,618.5 L651.5,622.8 L659.5,627.1 L667.5,631.4 L675.5,635.4 L683.5,639.2 L691.5,642.5 L699.5,645.2 L707.5,646.7 L715.5,647.1 L723.5,646.8 L731.5,646.2 L739.5,644.7 L747.5,643.0 L755.5,640.9 L763.5,638.8 L771.5,636.7 L779.5,634.4 L787.5,632.2 L795.5,630.0 L803.5,627.9 L811.5,625.8 L819.5,623.6 L827.5,621.0 L835.5,617.7 L843.5,614.0 L851.5,610.1 L859.5,605.7 L867.5,601.1 L875.5,596.3 L883.5,591.6 L891.5,587.3 L899.5,583.6 L907.5,580.9 L915.5,579.1 L923.5,577.9 L931.5,577.7 L939.5,578.5 L947.5,580.0 L955.5,581.6 L963.5,583.3 L971.5,585.5 L979.5,588.2 L987.5,591.4 L995.5,595.6 L1003.5,599.9 L1011.5,604.4 L1019.5,608.7 L1027.5,613.1 L1035.5,617.5 L1043.5,621.7 L1051.5,625.2 L1059.5,628.0 L1067.5,630.5 L1075.5,633.0 L1083.5,635.5 L1091.5,637.8 L1099.5,639.9 L1107.5,641.6 L1115.5,642.8" fill="none" stroke="#FF0000" stroke-width="1" stroke-dasharray="3,3"/></g>
<!-- RSI -->
<rect x="3" y="712" width="1415" height="1" fill="none"/>
<path d="M4,712.5 L1418,712.5 M4,763.5 L1418,763.5" stroke="#C0C0C0" stroke-dasharray="3,3"/>
<path clip-path="url(#mr)" d="M3.5,745.2 L11.5,741.1 L19.5,754.2 L27.5,737.3 L35.5,739.4 L43.5,751.2 L51.5,750.1 L59.5,736.3 L67.5,746.2 L75.5,748.0 L83.5,750.3 L91.5,753.4 L99.5,751.3 L107.5,739.5 L115.5,742.2 L123.5,743.5 L131.5,744.4 L139.5,752.7 L147.5,750.0 L155.5,758.0 L163.5,741.6 L171.5,740.9 L179.5,741.4 L187.5,745.2 L195.5,736.3 L203.5,732.6 L211.5,728.1 L219.5,726.7 L227.5,726.3 L235.5,724.0 L243.5,724.7 L251.5,729.5 L259.5,728.0 L267.5,733.3 L275.5,733.8 L283.5,735.8 L291.5,730.3 L299.5,732.2 L307.5,731.8 L315.5,729.5 L323.5,728.9 L331.5,724.2 L339.5,721.1 L347.5,716.8 L355.5,716.6 L363.5,724.4 L371.5,725.9 L379.5,717.5 L387.5,714.5 L395.5,710.6 L403.5,722.0 L411.5,722.4 L419.5,722.9 L427.5,723.4 L435.5,732.6 L443.5,735.4 L451.5,733.7 L459.5,736.3 L467.5,736.8 L475.5,736.0 L483.5,737.3 L491.5,734.6 L499.5,745.0 L507.5,737.7 L515.5,740.6 L523.5,738.4 L531.5,724.5 L539.5,725.7 L547.5,713.2 L555.5,724.2 L563.5,722.8 L571.5,719.1 L579.5,726.8 L587.5,736.7 L595.5,736.0 L603.5,738.8 L611.5,738.7 L619.5,741.9 L627.5,747.0 L635.5,760.0 L643.5,757.2 L651.5,750.9 L659.5,751.5 L667.5,754.6 L675.5,749.7 L683.5,747.7 L691.5,747.2 L699.5,743.8 L707.5,745.6 L715.5,734.5 L723.5,737.9 L731.5,740.1 L739.5,733.0 L747.5,733.6 L755.5,732.6 L763.5,735.8 L771.5,734.1 L779.5,727.2 L787.5,725.8 L795.5,726.0 L803.5,727.2 L811.5,723.5 L819.5,714.5 L827.5,709.1 L835.5,702.8 L843.5,706.6 L851.5,705.0 L859.5,699.7 L867.5,699.4 L875.5,701.1 L883.5,705.1 L891.5,704.7 L899.5,704.5 L907.5,706.7 L915.5,715.0 L923.5,710.8 L931.5,719.3 L939.5,723.6 L947.5,721.2 L955.5,716.0 L963.5,714.5 L971.5,732.8 L979.5,740.9 L987.5,745.6 L995.5,755.7 L1003.5,746.3 L1011.5,747.7 L1019.5,742.6 L1027.5,739.9 L1035.5,740.8 L1043.5,746.0 L1051.5,739.3 L1059.5,743.9 L1067.5,755.1 L1075.5,757.5 L1083.5,755.7 L1091.5,750.1 L1099.5,742.3 L1107.5,739.1 L1115.5,740.8" fill="none" stroke="#1E90FF" stroke-width="1"/>
<!-- frames -->
<g fill="#000">
<rect x="2" y="26" width="1417" height="1"/>
<rect x="2" y="26" width="1" height="540"/>
<rect x="2" y="565" width="1417" height="1"/>
<rect x="2" y="567" width="1417" height="1"/>
<rect x="2" y="567" width="1" height="104"/>
<rect x="2" y="670" width="1417" height="1"/>
<rect x="2" y="672" width="1417" height="1"/>
<rect x="2" y="672" width="1" height="131"/>
<rect x="2" y="802" width="1417" height="1"/>
<rect x="1418" y="26" width="1" height="540"/><rect x="1418" y="567" width="1" height="104"/><rect x="1418" y="672" width="1" height="131"/>
<rect x="1419" y="34" width="2" height="1"/><rect x="1419" y="67" width="2" height="1"/><rect x="1419" y="100" width="2" height="1"/><rect x="1419" y="133" width="2" height="1"/><rect x="1419" y="166" width="2" height="1"/><rect x="1419" y="199" width="2" height="1"/><rect x="1419" y="232" width="2" height="1"/><rect x="1419" y="265" width="2" height="1"/><rect x="1419" y="298" width="2" height="1"/><rect x="1419" y="331" width="2" height="1"/><rect x="1419" y="364" width="2" height="1"/><rect x="1419" y="397" width="2" height="1"/><rect x="1419" y="430" width="2" height="1"/><rect x="1419" y="463" width="2" height="1"/><rect x="1419" y="496" width="2" height="1"/><rect x="1419" y="529" width="2" height="1"/><rect x="1419" y="562" width="2" height="1"/><rect x="3" y="803" width="1" height="3"/><rect x="67" y="803" width="1" height="3"/><rect x="131" y="803" width="1" height="3"/><rect x="195" y="803" width="1" height="3"/><rect x="259" y="803" width="1" height="3"/><rect x="323" y="803" width="1" height="3"/><rect x="387" y="803" width="1" height="3"/><rect x="451" y="803" width="1" height="3"/><rect x="515" y="803" width="1" height="3"/><rect x="579" y="803" width="1" height="3"/><rect x="643" y="803" width="1" height="3"/><rect x="707" y="803" width="1" height="3"/><rect x="771" y="803" width="1" height="3"/><rect x="835" y="803" width="1" height="3"/><rect x="899" y="803" width="1" height="3"/><rect x="963" y="803" width="1" height="3"/><rect x="1027" y="803" width="1" height="3"/><rect x="1091" y="803" width="1" height="3"/>
<rect x="1419" y="628" width="1" height="1"/>
<rect x="1419" y="569" width="1" height="1"/>
<rect x="1419" y="669" width="1" height="1"/>
<rect x="1419" y="674" width="1" height="1"/>
<rect x="1419" y="801" width="1" height="1"/>
</g>
<rect x="1420" y="201" width="38" height="11" fill="#000"/>
<polygon points="6,33 13.5,33 9.75,37" fill="#000" shape-rendering="auto"/>
<!-- tabs -->
<rect x="0" y="823" width="1458" height="1" fill="#E3E3E3"/>
<rect x="0" y="825" width="1458" height="1" fill="#000"/>
<rect x="0" y="826" width="1458" height="19" fill="#F0F0F0"/>
<rect x="221" y="825" width="107" height="19" fill="#fff"/>
<rect x="221" y="825" width="1" height="19" fill="#000"/>
<rect x="327" y="825" width="1" height="19" fill="#000"/>
<rect x="221" y="843" width="107" height="1" fill="#000"/>
<rect x="112" y="828" width="1" height="13" fill="#6d6d6d"/>
<rect x="436" y="828" width="1" height="13" fill="#6d6d6d"/>
<rect x="548" y="828" width="1" height="13" fill="#6d6d6d"/>
<rect x="668" y="828" width="1" height="13" fill="#6d6d6d"/>
<rect x="0" y="846" width="1458" height="1" fill="#fff"/>
<rect x="0" y="849" width="1458" height="1" fill="#A0A0A0"/>
<polygon points="1437,831 1437,838 1434,834.5" fill="#A0A0A0" shape-rendering="auto"/>
<polygon points="1453,831 1453,838 1456,834.5" fill="#A0A0A0" shape-rendering="auto"/>
</svg>
<div class="tbb" style="left:6px">H4</div>
<div class="tbb" style="left:35px">D1</div>
<div class="tbb" style="left:62px">W1</div>
<div class="tbb" style="left:88px">MN</div>
<div class="ttl" style="left:18px;top:29px"><span style="letter-spacing:0.3px">USDCHF-,Daily</span>&nbsp;&nbsp;<span>1.00831 1.00840 1.00734 1.00760</span></div>
<div class="ttl" style="left:7px;top:571px">MACD(12,26,9) -0.001628 -0.001537</div>
<div class="ttl" style="left:7px;top:676px">RSI(14) 47.5818</div>
<div class="al" style="top:29px;left:1424px">1.02560</div><div class="al" style="top:62px;left:1424px">1.02220</div><div class="al" style="top:95px;left:1424px">1.01870</div><div class="al" style="top:128px;left:1424px">1.01530</div><div class="al" style="top:161px;left:1424px">1.01180</div><div class="al" style="top:194px;left:1424px">1.00840</div><div class="al" style="top:227px;left:1424px">1.00490</div><div class="al" style="top:260px;left:1424px">1.00150</div><div class="al" style="top:293px;left:1424px">0.99800</div><div class="al" style="top:326px;left:1424px">0.99460</div><div class="al" style="top:359px;left:1424px">0.99110</div><div class="al" style="top:392px;left:1424px">0.98770</div><div class="al" style="top:425px;left:1424px">0.98420</div><div class="al" style="top:458px;left:1424px">0.98080</div><div class="al" style="top:491px;left:1424px">0.97740</div><div class="al" style="top:524px;left:1424px">0.97390</div><div class="al" style="top:557px;left:1424px">0.97050</div><div class="dl" style="left:2px">18 Dec 2018</div><div class="dl" style="left:66px">27 Dec 2018</div><div class="dl" style="left:130px">6 Jan 2019</div><div class="dl" style="left:194px">15 Jan 2019</div><div class="dl" style="left:258px">24 Jan 2019</div><div class="dl" style="left:322px">3 Feb 2019</div><div class="dl" style="left:386px">12 Feb 2019</div><div class="dl" style="left:450px">21 Feb 2019</div><div class="dl" style="left:514px">3 Mar 2019</div><div class="dl" style="left:578px">12 Mar 2019</div><div class="dl" style="left:642px">21 Mar 2019</div><div class="dl" style="left:706px">31 Mar 2019</div><div class="dl" style="left:770px">9 Apr 2019</div><div class="dl" style="left:834px">18 Apr 2019</div><div class="dl" style="left:898px">29 Apr 2019</div><div class="dl" style="left:962px">8 May 2019</div><div class="dl" style="left:1026px">17 May 2019</div><div class="dl" style="left:1090px">27 May 2019</div>
<div class="al" style="top:201px;left:1424px;color:#fff">1.00760</div>
<div class="al" style="top:569px">0.00597</div>
<div class="al" style="top:624px">0.00</div>
<div class="al" style="top:659px">-0.00424</div>
<div class="al" style="top:675px">100</div>
<div class="al" style="top:708px">70</div>
<div class="al" style="top:759px">30</div>
<div class="al" style="top:791px">0</div>
<div class="tab" style="left:15px">EURUSD-,Daily</div>
<div class="tab" style="left:122px">AUDUSD-,Daily</div>
<div class="tab" style="left:232px;color:#000">USDCHF-,Daily</div>
<div class="tab" style="left:339px">USDCAD-,Daily</div>
<div class="tab" style="left:448px">USDCNH-,Daily</div>
<div class="tab" style="left:559px">EURCHF-,Weekly</div>
</body></html>
